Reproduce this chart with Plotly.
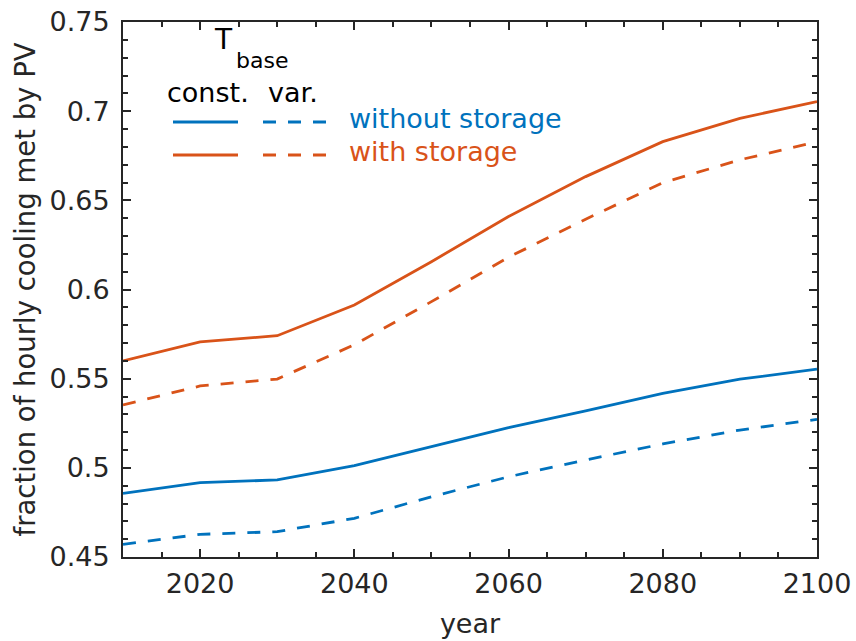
import plotly.graph_objects as go

# ---- data ----
years = [2010, 2020, 2030, 2040, 2050, 2060, 2070, 2080, 2090, 2100]
no_storage_const = [0.4857, 0.4917, 0.4932, 0.5012, 0.5119, 0.5225, 0.5320, 0.5418, 0.5497, 0.5553]
no_storage_var = [0.4571, 0.4627, 0.4642, 0.4717, 0.4838, 0.4950, 0.5044, 0.5134, 0.5212, 0.5272]
storage_const = [0.5599, 0.5706, 0.5741, 0.5913, 0.6156, 0.6409, 0.6633, 0.6829, 0.6960, 0.7054]
storage_var = [0.5353, 0.5459, 0.5498, 0.5690, 0.5932, 0.6181, 0.6394, 0.6599, 0.6727, 0.6829]

y_ticks = [0.45, 0.5, 0.55, 0.6, 0.65, 0.7, 0.75]
y_tick_labels = ["0.45", "0.5", "0.55", "0.6", "0.65", "0.7", "0.75"]
x_ticks = [2020, 2040, 2060, 2080, 2100]
x_tick_labels = ["2020", "2040", "2060", "2080", "2100"]

BLUE = "#0072BD"
ORANGE = "#D95319"
AX = "#262626"
FONT = "DejaVu Sans"
DASH = "13px,12px"
LW = 2.8

W, H = 856, 641
L, R, T, B = 123, 817, 22, 557


def px(x):
    return (x - L) / (R - L)


def py(y):
    return (B - y) / (B - T)


fig = go.Figure()
series = [
    (no_storage_const, BLUE, "solid"),
    (no_storage_var, BLUE, DASH),
    (storage_const, ORANGE, "solid"),
    (storage_var, ORANGE, DASH),
]
for vals, col, dash in series:
    fig.add_trace(go.Scatter(x=years, y=vals, mode="lines",
                             line=dict(color=col, width=LW, dash=dash),
                             showlegend=False, hoverinfo="skip"))

axis_common = dict(
    showgrid=False, zeroline=False, showline=True, linecolor=AX, linewidth=2,
    mirror="allticks", ticks="inside", ticklen=8, tickwidth=2, tickcolor=AX,
    tickfont=dict(family=FONT, size=27, color=AX), automargin=False,
    ticklabeloverflow="allow",
)

fig.update_xaxes(range=[2010, 2100], tickvals=x_ticks, ticktext=x_tick_labels,
                 minor=dict(ticks="inside", dtick=5, tick0=2010, ticklen=5, tickwidth=2, tickcolor=AX),
                 title=dict(text="year", font=dict(family=FONT, size=27, color=AX), standoff=16),
                 ticklabelstandoff=2,
                 **axis_common)
fig.update_yaxes(range=[0.45, 0.75], tickvals=y_ticks, ticktext=y_tick_labels,
                 minor=dict(ticks="inside", dtick=0.01, tick0=0.45, ticklen=5, tickwidth=2, tickcolor=AX),
                 title=dict(text="fraction of hourly cooling met by PV",
                            font=dict(family=FONT, size=27.5, color=AX), standoff=6),
                 ticklabelstandoff=6,
                 **axis_common)

shapes = []
# legend sample lines
for yy, col in ((122, BLUE), (155, ORANGE)):
    shapes.append(dict(type="line", xref="paper", yref="paper", x0=px(173), x1=px(238), y0=py(yy), y1=py(yy),
                       line=dict(color=col, width=LW)))
    shapes.append(dict(type="line", xref="paper", yref="paper", x0=px(263), x1=px(326), y0=py(yy), y1=py(yy),
                       line=dict(color=col, width=LW, dash=DASH)))

annotations = [
    dict(text="T", x=px(223), y=py(40), xanchor="center", yanchor="middle", font=dict(size=28, color="black")),
    dict(text="base", x=px(234), y=py(61), xanchor="left", yanchor="middle", font=dict(size=22, color="black")),
    dict(text="const.", x=px(165), y=py(92), xanchor="left", yanchor="middle", font=dict(size=27, color="black")),
    dict(text="var.", x=px(266), y=py(92), xanchor="left", yanchor="middle", font=dict(size=27, color="black")),
    dict(text="without storage", x=px(347), y=py(118), xanchor="left", yanchor="middle", font=dict(size=27, color=BLUE)),
    dict(text="with storage", x=px(347), y=py(151), xanchor="left", yanchor="middle", font=dict(size=27, color=ORANGE)),
]
for a in annotations:
    a.update(xref="paper", yref="paper", showarrow=False)
    a["font"]["family"] = FONT

fig.update_layout(
    width=W, height=H,
    margin=dict(l=L, r=W - R, t=T, b=H - B),
    paper_bgcolor="white", plot_bgcolor="white",
    shapes=shapes, annotations=annotations,
    font=dict(family=FONT, color=AX),
)

# remove the default 8px page margin so the figure fills the window exactly
fig.write_html("out.html", config={"displayModeBar": False},
               post_script="document.body.style.margin='0';document.body.style.overflow='hidden';")
